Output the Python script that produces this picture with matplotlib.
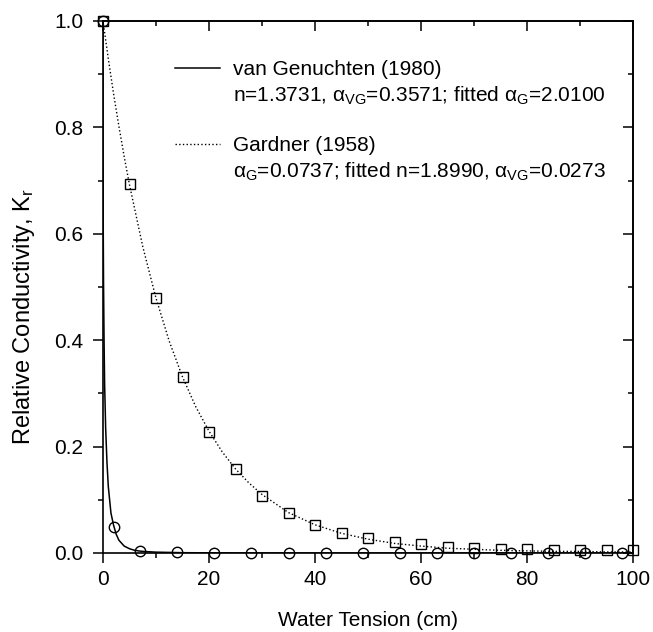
import matplotlib.pyplot as plt
from matplotlib.lines import Line2D
from matplotlib.ticker import MultipleLocator

plt.rcParams['font.family'] = ['Liberation Sans', 'DejaVu Sans']
plt.rcParams['mathtext.fontset'] = 'custom'
plt.rcParams['mathtext.rm'] = 'Liberation Sans'
plt.rcParams['mathtext.it'] = 'Liberation Sans'
plt.rcParams['mathtext.bf'] = 'Liberation Sans:bold'

# van Genuchten curve
vg_h = [0, 0.01, 0.05, 0.1, 0.2, 0.3, 0.5, 0.75, 1.0, 1.5, 2.0, 2.5, 3, 4, 5, 6, 7, 8, 10, 15, 20, 30, 50, 100]
vg_k = [1.0, 0.77, 0.60, 0.51, 0.40, 0.32, 0.235, 0.17, 0.125, 0.075, 0.052, 0.035, 0.024, 0.013, 0.008, 0.005,
        0.0035, 0.0027, 0.0016, 0.0006, 0.0003, 0.0001, 0.0, 0.0]
# van Genuchten points
vg_pts_h = [0, 2.1, 7, 14, 21, 28, 35, 42, 49, 56, 63, 70, 77, 84, 91, 98]
vg_pts_k = [1.0, 0.048, 0.003, 0.001, 0.0005, 0.0, 0.0, 0.0, 0.0, 0.0, 0.0, 0.0, 0.0, 0.0, 0.0, 0.0]

# Gardner curve
g_h = [0, 1, 2, 3, 4, 5, 7.5, 10, 12.5, 15, 17.5, 20, 22.5, 25, 27.5, 30, 35, 40, 45, 50,
       55, 60, 65, 70, 75, 80, 85, 90, 95, 100]
g_k = [1.0, 0.929, 0.863, 0.802, 0.745, 0.692, 0.576, 0.479, 0.398, 0.331, 0.275, 0.229, 0.190, 0.158, 0.132,
       0.110, 0.076, 0.053, 0.037, 0.026, 0.018, 0.013, 0.009, 0.007, 0.005, 0.004, 0.003, 0.003, 0.002, 0.002]
# Gardner points
g_pts_h = [0, 5, 10, 15, 20, 25, 30, 35, 40, 45, 50, 55, 60, 65, 70, 75, 80, 85, 90, 95, 100]
g_pts_k = [1.0, 0.693, 0.48, 0.331, 0.228, 0.157, 0.108, 0.076, 0.053, 0.038, 0.028, 0.02, 0.016, 0.012,
           0.009, 0.007, 0.007, 0.006, 0.005, 0.005, 0.005]

fs = 15

fig = plt.figure(figsize=(6.53, 6.32), dpi=100)
ax = fig.add_axes([103/653, 1-553/632, 530/653, 532/632])

ax.plot(vg_h, vg_k, 'k-', lw=1.1)
ax.plot(vg_pts_h, vg_pts_k, ls='none', marker='o', mfc='none', mec='k', ms=7.5, mew=1, clip_on=False)
ax.plot(g_h, g_k, 'k:', lw=1)
ax.plot(g_pts_h, g_pts_k, ls='none', marker='s', mfc='none', mec='k', ms=6.5, mew=1, clip_on=False)

ax.set_xlim(0, 100)
ax.set_ylim(0, 1)
ax.xaxis.set_major_locator(MultipleLocator(20))
ax.xaxis.set_minor_locator(MultipleLocator(10))
ax.yaxis.set_major_locator(MultipleLocator(0.2))
ax.yaxis.set_minor_locator(MultipleLocator(0.1))
ax.yaxis.set_major_formatter(plt.FormatStrFormatter('%.1f'))
ax.tick_params(which='both', direction='out', labelsize=fs, width=1.1)
ax.tick_params(which='major', length=7)
ax.tick_params(which='minor', length=3.5)
ax.tick_params(axis='x', pad=5)
ax.tick_params(axis='y', pad=7)

# mirrored ticks on top and right, pointing inward
for pos in ['top', 'right']:
    sec = ax.secondary_xaxis('top') if pos == 'top' else ax.secondary_yaxis('right')
    axis = sec.xaxis if pos == 'top' else sec.yaxis
    axis.set_major_locator(MultipleLocator(20 if pos == 'top' else 0.2))
    axis.set_minor_locator(MultipleLocator(10 if pos == 'top' else 0.1))
    sec.tick_params(which='both', direction='in', labeltop=False, labelright=False, width=1.1)
    sec.tick_params(which='major', length=7)
    sec.tick_params(which='minor', length=3.5)
    sec.spines[pos].set_linewidth(1.2)

for s in ax.spines.values():
    s.set_linewidth(1.2)

ax.set_xlabel('Water Tension (cm)', fontsize=fs, labelpad=16)
ax.set_ylabel('Relative Conductivity, K$_\\mathrm{r}$', fontsize=17)
ax.yaxis.set_label_coords(-0.125, 0.445)

blank = Line2D([], [], ls='none')
handles = [Line2D([], [], color='k', lw=1.1), blank, blank, Line2D([], [], color='k', ls=':', lw=1), blank]
labels = ['van Genuchten (1980)',
          'n=1.3731, $\\alpha_{\\mathrm{VG}}$=0.3571; fitted $\\alpha_{\\mathrm{G}}$=2.0100',
          ' ',
          'Gardner (1958)',
          '$\\alpha_{\\mathrm{G}}$=0.0737; fitted n=1.8990, $\\alpha_{\\mathrm{VG}}$=0.0273']
ax.legend(handles, labels, loc='upper left', bbox_to_anchor=(0.136, 0.926), frameon=False,
          fontsize=fs, handlelength=2.16, handletextpad=0.62, borderpad=0, borderaxespad=0, labelspacing=0.25)

fig.savefig('out.png', dpi=100)
